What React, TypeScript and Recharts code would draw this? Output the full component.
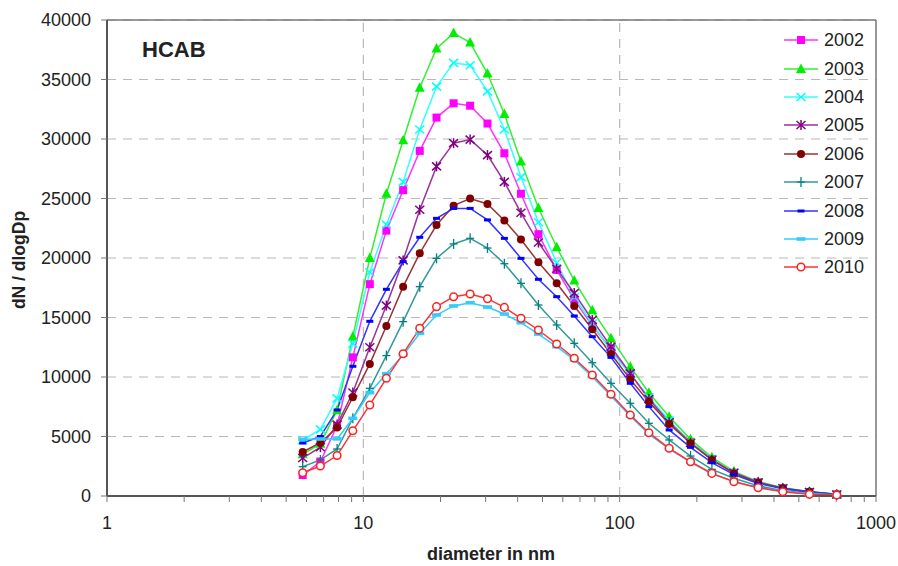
import React from 'react';
import { LineChart, Line, XAxis, YAxis, CartesianGrid, ReferenceLine, Legend } from 'recharts';

const diameters = [5.8, 6.8, 7.9, 9.1, 10.6, 12.3, 14.3, 16.6, 19.3, 22.5, 26.1, 30.5, 35.5, 41.2, 48.2, 56.8, 66.5, 78.2, 92.5, 110, 130, 156, 189, 229, 279, 347, 433, 550, 703];

const y2002 = [1760, 2900, 5900, 11650, 17800, 22300, 25700, 29000, 31800, 33000, 32800, 31300, 28800, 25400, 22000, 19000, 16500, 14300, 12350, 10250, 8210, 6250, 4550, 3100, 1950, 1150, 650, 340, 130];
const y2003 = [3500, 4400, 7200, 13400, 20000, 25400, 29900, 34300, 37600, 38900, 38100, 35500, 32100, 28100, 24200, 20900, 18100, 15600, 13250, 10870, 8680, 6660, 4760, 3250, 2070, 1200, 700, 380, 150];
const y2004 = [4700, 5600, 8200, 12800, 18800, 22800, 26400, 30800, 34400, 36400, 36200, 34000, 30800, 26800, 23000, 19600, 16700, 14500, 12150, 10200, 8300, 6350, 4500, 3100, 1950, 1150, 650, 330, 130];
const y2005 = [3190, 4100, 6000, 8700, 12500, 16000, 19800, 24050, 27700, 29650, 29950, 28650, 26400, 23800, 21300, 19100, 17050, 14790, 12550, 10300, 8150, 6200, 4450, 3050, 1950, 1150, 650, 340, 130];
const y2006 = [3700, 4480, 5750, 8300, 11100, 14290, 17590, 20400, 22770, 24400, 25000, 24540, 23150, 21550, 19650, 17870, 15970, 14010, 11930, 9800, 7930, 6050, 4430, 3030, 1900, 1120, 650, 360, 140];
const y2007 = [2460, 3030, 3950, 6530, 9050, 11800, 14650, 17590, 19970, 21180, 21650, 20840, 19520, 17870, 16050, 14370, 12830, 11200, 9470, 7790, 6110, 4710, 3360, 2240, 1490, 850, 450, 230, 100];
const y2008 = [4450, 5000, 7230, 10900, 14680, 17370, 19700, 21740, 23330, 24170, 24170, 23200, 21650, 19970, 18210, 16750, 15130, 13390, 11650, 9470, 7510, 5550, 4090, 2800, 1800, 1050, 600, 330, 130];
const y2009 = [4760, 4790, 4800, 6530, 8680, 10280, 11850, 13670, 15210, 15970, 16240, 15880, 15290, 14560, 13610, 12550, 11430, 10030, 8400, 6700, 5200, 3950, 2850, 1850, 1250, 700, 380, 200, 90];
const y2010 = [1960, 2520, 3400, 5480, 7650, 9890, 11960, 14090, 15910, 16750, 16970, 16580, 15850, 14930, 13950, 12770, 11570, 10170, 8550, 6810, 5320, 4010, 2880, 1900, 1200, 700, 360, 140, 80];

const years = ['2002', '2003', '2004', '2005', '2006', '2007', '2008', '2009', '2010'];
const seriesValues = [y2002, y2003, y2004, y2005, y2006, y2007, y2008, y2009, y2010];
const colors = ['#FF00FF', '#00EE00', '#00FFFF', '#800080', '#800000', '#008080', '#0000FF', '#33CCFF', '#FF2020'];
const lineColors = ['#FF33FF', '#33EE33', '#33FFFF', '#993399', '#993333', '#339999', '#3333FF', '#33CCFF', '#FF3333'];
const shapes = ['square', 'triangle', 'x', 'star', 'circle', 'plus', 'dash', 'dashThick', 'hollow'];

const xTicks = [1, 2, 3, 4, 5, 6, 7, 8, 9, 10, 20, 30, 40, 50, 60, 70, 80, 90, 100, 200, 300, 400, 500, 600, 700, 800, 900, 1000];
const xLabelTicks = [1, 10, 100, 1000];
const yTicks = [0, 5000, 10000, 15000, 20000, 25000, 30000, 35000, 40000];

const data = diameters.map((d, i) => {
  const row: Record<string, number> = { d };
  years.forEach((y, k) => { row['y' + y] = seriesValues[k][i]; });
  return row;
});

const FONT = '"Liberation Sans", Arial, Helvetica, sans-serif';

function Marker({ cx, cy, shape, color }: { cx: number; cy: number; shape: string; color: string }) {
  if (cx == null || cy == null || isNaN(cx) || isNaN(cy)) return <g />;
  switch (shape) {
    case 'square':
      return <rect x={cx - 4} y={cy - 4} width={8} height={8} fill={color} />;
    case 'triangle':
      return <polygon points={`${cx},${cy - 5.5} ${cx - 5},${cy + 4} ${cx + 5},${cy + 4}`} fill={color} />;
    case 'x':
      return (
        <g stroke={color} strokeWidth={1.5}>
          <line x1={cx - 4.5} y1={cy - 4} x2={cx + 4.5} y2={cy + 4} />
          <line x1={cx - 4.5} y1={cy + 4} x2={cx + 4.5} y2={cy - 4} />
        </g>
      );
    case 'star':
      return (
        <g stroke={color} strokeWidth={1.5}>
          <line x1={cx - 4.5} y1={cy - 4} x2={cx + 4.5} y2={cy + 4} />
          <line x1={cx - 4.5} y1={cy + 4} x2={cx + 4.5} y2={cy - 4} />
          <line x1={cx} y1={cy - 5} x2={cx} y2={cy + 5} />
        </g>
      );
    case 'circle':
      return <circle cx={cx} cy={cy} r={4} fill={color} />;
    case 'plus':
      return (
        <g stroke={color} strokeWidth={1.3}>
          <line x1={cx} y1={cy - 5} x2={cx} y2={cy + 5} />
          <line x1={cx - 4} y1={cy} x2={cx + 4} y2={cy} />
        </g>
      );
    case 'dash':
      return <rect x={cx - 3.5} y={cy - 1.5} width={7} height={3} fill={color} />;
    case 'dashThick':
      return <rect x={cx - 4.5} y={cy - 1.8} width={9} height={3.6} fill={color} />;
    case 'hollow':
      return <circle cx={cx} cy={cy} r={3.8} fill="#ffffff" stroke={color} strokeWidth={1.5} />;
    default:
      return <g />;
  }
}

const XTick = (props: any) => {
  const { x, y, payload } = props;
  if (!xLabelTicks.includes(payload.value)) return <g />;
  return (
    <text x={x} y={y} dy="0.71em" textAnchor="middle" fontFamily={FONT} fontSize={18} fill="#222">
      {payload.value}
    </text>
  );
};

const YTick = (props: any) => {
  const { x, y, payload } = props;
  return (
    <text x={x} y={y} dy="0.355em" textAnchor="end" fontFamily={FONT} fontSize={18} fill="#222">
      {payload.value}
    </text>
  );
};

const LegendContent = () => (
  <div style={{ fontFamily: FONT, fontSize: 18, color: '#222' }}>
    {years.map((y, k) => (
      <div key={y} style={{ display: 'flex', alignItems: 'center', height: 28.4 }}>
        <svg width={36} height={14} style={{ display: 'block' }}>
          <line x1={0} y1={7} x2={34} y2={7} stroke={lineColors[k]} strokeWidth={1.5} />
          <Marker cx={17} cy={7} shape={shapes[k]} color={colors[k]} />
        </svg>
        <span style={{ marginLeft: 4, lineHeight: '20px' }}>{y}</span>
      </div>
    ))}
  </div>
);

export default function App() {
  return (
    <div style={{ position: 'absolute', left: 0, top: 0, width: 898, height: 566, background: '#fff' }}>
      <LineChart width={898} height={566} data={data} margin={{ top: 20, right: 22, bottom: 0, left: 0 }}>
        <CartesianGrid vertical={false} stroke="#b8b8b8" strokeDasharray="9 7" strokeWidth={1.2} />
        <ReferenceLine x={10} stroke="#b8b8b8" strokeDasharray="9 7" strokeWidth={1.2} />
        <ReferenceLine x={100} stroke="#b8b8b8" strokeDasharray="9 7" strokeWidth={1.2} />
        <ReferenceLine y={40000} stroke="#777" strokeWidth={1.5} />
        <ReferenceLine x={1000} stroke="#777" strokeWidth={1.5} />
        <XAxis
          dataKey="d"
          type="number"
          scale="log"
          domain={[1, 1000]}
          ticks={xTicks}
          interval={0}
          allowDataOverflow
          tick={<XTick />}
          tickSize={6}
          tickMargin={14}
          axisLine={{ stroke: '#555', strokeWidth: 2 }}
          tickLine={{ stroke: '#777', strokeWidth: 1 }}
          height={70}
          label={() => (
            <text x={491} y={560} textAnchor="middle" fontFamily={FONT} fontSize={18} fontWeight="bold" fill="#222">
              diameter in nm
            </text>
          )}
        />
        <YAxis
          type="number"
          domain={[0, 40000]}
          ticks={yTicks}
          interval={0}
          width={107}
          tick={<YTick />}
          tickSize={6}
          tickMargin={10}
          axisLine={{ stroke: '#555', strokeWidth: 2 }}
          tickLine={{ stroke: '#777', strokeWidth: 1 }}
          label={() => (
            <text x={25} y={260} transform="rotate(-90 25 260)" textAnchor="middle" fontFamily={FONT} fontSize={17.5} fontWeight="bold" fill="#222">
              dN / dlogDp
            </text>
          )}
        />
        {years.map((y, k) => (
          <Line
            key={y}
            type="linear"
            dataKey={'y' + y}
            name={y}
            stroke={lineColors[k]}
            strokeWidth={1.5}
            isAnimationActive={false}
            dot={(p: any) => <Marker key={`${y}-${p.index}`} cx={p.cx} cy={p.cy} shape={shapes[k]} color={colors[k]} />}
            activeDot={false}
          />
        ))}
        <Legend
          layout="vertical"
          align="center"
          verticalAlign="middle"
          content={<LegendContent />}
          wrapperStyle={{ position: 'absolute', top: 26, left: 784, width: 100, height: 260 }}
        />
      </LineChart>
      <div
        style={{
          position: 'absolute',
          left: 142,
          top: 37,
          fontFamily: FONT,
          fontSize: 22,
          fontWeight: 'bold',
          color: '#222',
          lineHeight: '26px',
        }}
      >
        HCAB
      </div>
    </div>
  );
}
